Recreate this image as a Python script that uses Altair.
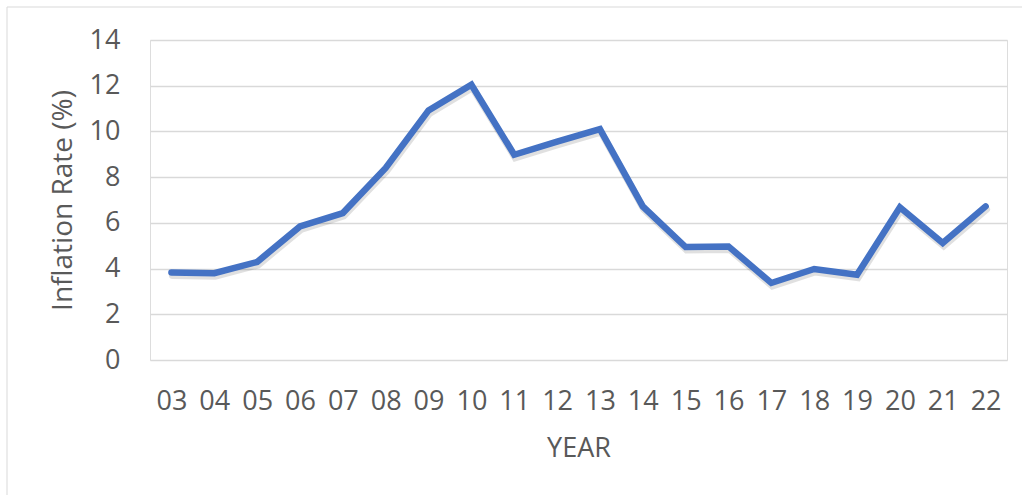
import altair as alt
import pandas as pd

# Annual inflation rate by two-digit year
years = ["03", "04", "05", "06", "07", "08", "09", "10", "11", "12",
         "13", "14", "15", "16", "17", "18", "19", "20", "21", "22"]
inflation = [3.83, 3.80, 4.29, 5.84, 6.43, 8.40, 10.92, 12.04, 8.98, 9.55,
             10.10, 6.72, 4.94, 4.97, 3.37, 3.98, 3.73, 6.68, 5.12, 6.72]

df = pd.DataFrame({"year": years, "rate": inflation})

FONT = "Open Sans"
TEXT = "#595959"
BLUE = "#4472C4"

x_enc = alt.X(
    "year:O",
    sort=years,
    scale=alt.Scale(type="point", padding=0.5),
    axis=alt.Axis(
        title="YEAR", labelAngle=0, ticks=False, domain=False, grid=False,
        labelFontSize=27, labelColor=TEXT, labelFont=FONT, labelPadding=28,
        titleFontSize=27, titleColor=TEXT, titleFont=FONT, titleFontWeight="normal",
        titlePadding=21,
    ),
)
y_enc = alt.Y(
    "rate:Q",
    scale=alt.Scale(domain=[0, 14], nice=False),
    axis=alt.Axis(
        title="Inflation Rate (%)", values=[0, 2, 4, 6, 8, 10, 12, 14],
        ticks=False, domain=False, gridColor="#d9d9d9", gridWidth=1.5,
        labelFontSize=27, labelColor=TEXT, labelFont=FONT, labelPadding=30,
        titleFontSize=28, titleColor=TEXT, titleFont=FONT, titleFontWeight="normal",
        titlePadding=12,
    ),
)

# outer chart frame
frame = alt.Chart(pd.DataFrame({"k": [0]})).mark_rect(
    fill="transparent", stroke="#d9d9d9", strokeWidth=1
).encode(
    x=alt.value(-143), x2=alt.value(890), y=alt.value(-33), y2=alt.value(470)
)

shadow = alt.Chart(df).mark_line(
    color="#000000", opacity=0.12, strokeWidth=7, yOffset=3, xOffset=1,
    strokeJoin="miter", strokeCap="round"
).encode(x=x_enc, y=y_enc)

line = alt.Chart(df).mark_line(
    color=BLUE, strokeWidth=6.5, strokeJoin="miter", strokeCap="round"
).encode(x=x_enc, y=y_enc)

chart = alt.layer(frame, shadow, line).properties(
    width=857, height=320,
    autosize=alt.AutoSizeParams(type="none"),
    padding={"left": 150, "top": 40, "right": 15, "bottom": 135},
).configure_view(stroke=None).configure(background="white")

chart.save("out.html", embed_options={"renderer": "svg", "actions": False})
